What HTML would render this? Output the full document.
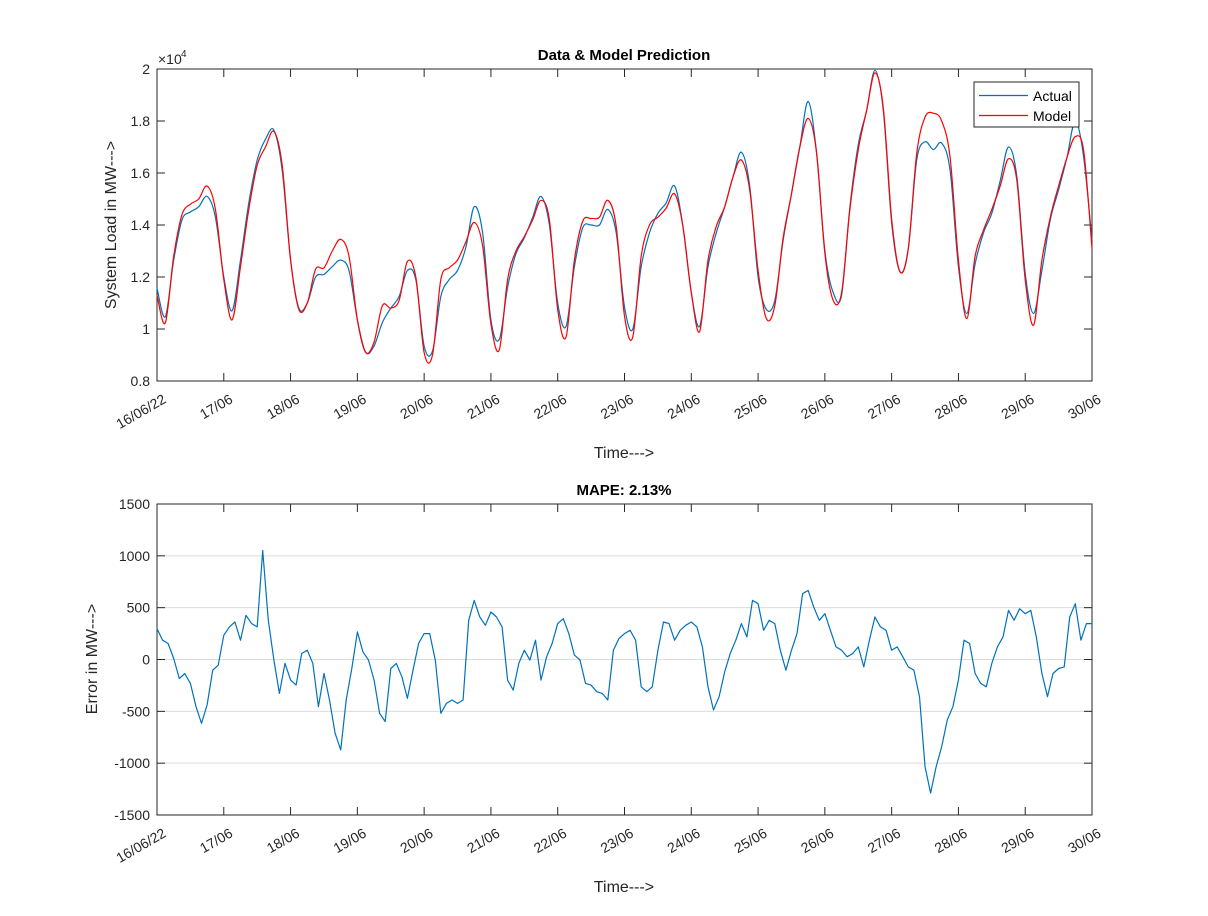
<!DOCTYPE html>
<html><head><meta charset="utf-8"><style>
body{margin:0;background:#fff;}
svg{display:block;font-family:"Liberation Sans",Arial,sans-serif;}
</style></head><body>
<svg id="chart" width="1208" height="916" viewBox="0 0 1208 916"></svg>
<script>
// ---- data (3-hourly load in units of 1e4 MW, 2-hourly error in MW) ----
const dayLabels = ["16/06/22","17/06","18/06","19/06","20/06","21/06","22/06","23/06","24/06","25/06","26/06","27/06","28/06","29/06","30/06"];
const loadTicks = [0.8,1,1.2,1.4,1.6,1.8,2];
const loadTickLabels = ["0.8","1","1.2","1.4","1.6","1.8","2"];
const errTicks = [-1500,-1000,-500,0,500,1000,1500];
const errTickLabels = ["-1500","-1000","-500","0","500","1000","1500"];
const actual = [
1.157,1.047,1.265,1.42,1.45,1.47,1.51,1.43,
1.20,1.07,1.265,1.485,1.65,1.73,1.765,1.61,
1.265,1.08,1.10,1.20,1.21,1.24,1.265,1.225,
1.035,0.91,0.935,1.025,1.08,1.125,1.225,1.19,
0.935,0.915,1.125,1.19,1.225,1.315,1.47,1.37,
1.035,0.96,1.16,1.29,1.35,1.43,1.51,1.40,
1.10,1.01,1.24,1.39,1.40,1.40,1.46,1.37,
1.085,1.00,1.24,1.37,1.445,1.485,1.55,1.395,
1.14,1.01,1.24,1.37,1.47,1.585,1.68,1.55,
1.20,1.075,1.11,1.34,1.52,1.70,1.875,1.68,
1.30,1.14,1.13,1.47,1.71,1.84,1.995,1.84,
1.41,1.22,1.31,1.65,1.72,1.69,1.715,1.61,
1.24,1.06,1.25,1.37,1.445,1.57,1.70,1.585,
1.215,1.06,1.225,1.42,1.535,1.66,1.80,1.66,1.34];
const model = [
1.13,1.023,1.28,1.44,1.48,1.50,1.55,1.46,
1.19,1.035,1.24,1.46,1.63,1.70,1.76,1.63,
1.265,1.075,1.10,1.23,1.235,1.30,1.345,1.28,
1.035,0.91,0.95,1.09,1.08,1.11,1.26,1.20,
0.91,0.90,1.19,1.235,1.265,1.335,1.41,1.32,
1.02,0.92,1.19,1.30,1.355,1.42,1.495,1.42,
1.075,0.97,1.265,1.415,1.425,1.43,1.495,1.395,
1.05,0.97,1.28,1.40,1.43,1.465,1.52,1.395,
1.14,0.99,1.265,1.395,1.47,1.585,1.65,1.535,
1.225,1.04,1.09,1.35,1.52,1.70,1.81,1.68,
1.29,1.11,1.14,1.46,1.69,1.84,1.985,1.85,
1.425,1.22,1.31,1.675,1.815,1.83,1.80,1.66,
1.265,1.04,1.28,1.38,1.46,1.55,1.655,1.57,
1.19,1.015,1.265,1.43,1.55,1.66,1.74,1.685,1.31];
const errorMW = [
298,186,154,10,-183,-135,-231,-455,-615,-439,-103,-55,
234,314,362,186,426,346,314,1051,378,-6,-327,-38,
-199,-247,58,90,-38,-455,-135,-391,-711,-872,-391,-87,
266,74,-6,-199,-519,-599,-87,-38,-167,-375,-103,154,
250,250,-6,-519,-423,-391,-423,-391,378,570,410,330,
458,410,314,-199,-295,-38,90,-6,186,-199,26,154,
346,394,250,42,-6,-231,-247,-311,-327,-391,90,202,
250,282,186,-263,-311,-263,90,362,346,186,282,330,
362,314,122,-263,-487,-359,-119,58,186,346,218,570,
538,282,378,346,90,-103,90,250,635,667,506,378,
442,282,122,90,26,58,122,-71,186,410,314,282,
90,122,26,-71,-103,-359,-1032,-1288,-1032,-840,-583,-455,
-199,186,154,-135,-231,-263,-38,122,218,474,378,490,
442,474,218,-135,-359,-135,-87,-71,410,538,186,346,346];

const NS="http://www.w3.org/2000/svg";
const svg=document.getElementById('chart');
function el(tag,attrs,parent,text){const e=document.createElementNS(NS,tag);for(const k in attrs)e.setAttribute(k,attrs[k]);if(text!==undefined)e.textContent=text;(parent||svg).appendChild(e);return e;}

const X0=157,X1=1092,DAYS=14;
const xDay=d=>X0+(X1-X0)*d/DAYS;

function drawAxes(g,y0,y1,ticks,labels,yf,grid,axName){
  if(grid){
    ticks.forEach((t,i)=>{
      const ln=el('line',{x1:X0,x2:X1,y1:yf(t),y2:yf(t),stroke:'#dcdcdc','stroke-width':1},g);
      
      
    });
  }
  ticks.forEach((t,i)=>{
    const y=yf(t);
    el('line',{x1:X0,x2:X0+8,y1:y,y2:y,stroke:'#262626'},g);
    el('line',{x1:X1-8,x2:X1,y1:y,y2:y,stroke:'#262626'},g);
    const tx=el('text',{x:X0-7,y:y+5,'text-anchor':'end','font-size':14,fill:'#262626'},g,labels[i]);
    
    
  });
  dayLabels.forEach((lab,d)=>{
    const x=xDay(d);
    el('line',{x1:x,x2:x,y1:y1,y2:y1-8,stroke:'#262626'},g);
    el('line',{x1:x,x2:x,y1:y0,y2:y0+8,stroke:'#262626'},g);
    const tx=el('text',{x:0,y:0,'text-anchor':'end','font-size':14,fill:'#262626',transform:`translate(${x+10},${y1+21}) rotate(-30)`},g,lab);
    
    
  });
  const box=el('rect',{x:X0,y:y0,width:X1-X0,height:y1-y0,fill:'none',stroke:'#262626','stroke-width':1},g);
  
  
}

// ---- top chart ----
const T0=69,T1=381;
const yLoad=v=>T1-(v-0.8)/1.2*(T1-T0);
const gTop=el('g',{});


drawAxes(gTop,T0,T1,loadTicks,loadTickLabels,yLoad,false,'load');
function series(arr,perDay,yf,color,name,g,smooth){
  const P=arr.map((v,i)=>[xDay(i/perDay),yf(v)]);
  let d='M'+P[0][0].toFixed(1)+','+P[0][1].toFixed(1);
  for(let i=0;i<P.length-1;i++){
    if(smooth){
      const p0=P[Math.max(0,i-1)],p1=P[i],p2=P[i+1],p3=P[Math.min(P.length-1,i+2)];
      const c1=[p1[0]+(p2[0]-p0[0])/6,p1[1]+(p2[1]-p0[1])/6];
      const c2=[p2[0]-(p3[0]-p1[0])/6,p2[1]-(p3[1]-p1[1])/6];
      d+=`C${c1[0].toFixed(1)},${c1[1].toFixed(1)} ${c2[0].toFixed(1)},${c2[1].toFixed(1)} ${p2[0].toFixed(1)},${p2[1].toFixed(1)}`;
    } else d+='L'+P[i+1][0].toFixed(1)+','+P[i+1][1].toFixed(1);
  }
  const p=el('path',{d:d,fill:'none',stroke:color,'stroke-width':1.2,'stroke-linejoin':'round'},g);
  
  
}
series(actual,8,yLoad,'#0072bd','actual-line',gTop,true);
series(model,8,yLoad,'#ff0000','model-line',gTop,true);

let t=el('text',{x:624,y:60,'text-anchor':'middle','font-size':15,'font-weight':'bold',fill:'#000'},svg,'Data & Model Prediction');

t=el('text',{x:158,y:64,'font-size':14,fill:'#262626'},svg,'×10');

t=el('text',{x:181,y:57,'font-size':10,fill:'#262626'},svg,'4');

t=el('text',{x:0,y:0,'text-anchor':'middle','font-size':16,fill:'#262626',transform:'translate(116,225) rotate(-90)'},svg,'System Load in MW--->');

t=el('text',{x:624,y:458,'text-anchor':'middle','font-size':16,fill:'#262626'},svg,'Time--->');


// legend
const lg=el('g',{});


el('rect',{x:974,y:82,width:105,height:45,fill:'#fff',stroke:'#262626'},lg);
const l1=el('g',{},lg);


el('line',{x1:979,x2:1028,y1:95.5,y2:95.5,stroke:'#0072bd','stroke-width':1.2},l1);
el('text',{x:1033,y:101,'font-size':14,fill:'#000'},l1,'Actual');
const l2=el('g',{},lg);


el('line',{x1:979,x2:1028,y1:115.5,y2:115.5,stroke:'#ff0000','stroke-width':1.2},l2);
el('text',{x:1033,y:121,'font-size':14,fill:'#000'},l2,'Model');

// ---- bottom chart ----
const B0=504,B1=815;
const yErr=v=>B1-(v+1500)/3000*(B1-B0);
const gBot=el('g',{});


drawAxes(gBot,B0,B1,errTicks,errTickLabels,yErr,true,'error');
series(errorMW,12,yErr,'#0072bd','error-line',gBot,false);

t=el('text',{x:624,y:495,'text-anchor':'middle','font-size':15,'font-weight':'bold',fill:'#000'},svg,'MAPE: 2.13%');

t=el('text',{x:0,y:0,'text-anchor':'middle','font-size':16,fill:'#262626',transform:'translate(97,659) rotate(-90)'},svg,'Error in MW--->');

t=el('text',{x:624,y:892,'text-anchor':'middle','font-size':16,fill:'#262626'},svg,'Time--->');

</script>
</body></html>
